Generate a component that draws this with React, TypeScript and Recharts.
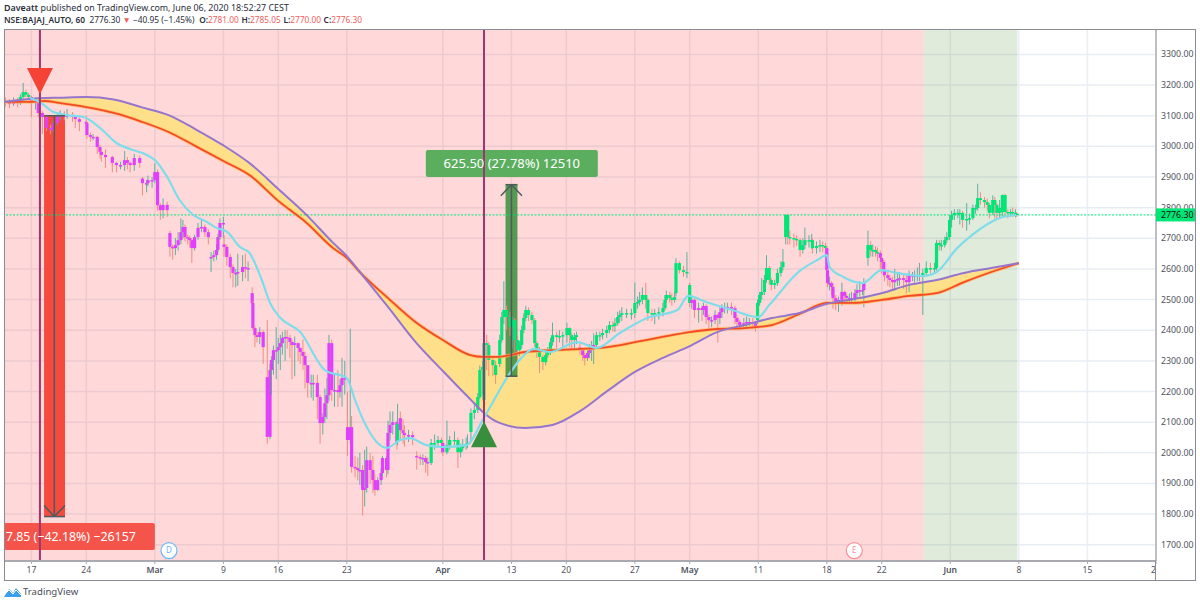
import React from "react";
import {
  ComposedChart, Area, Bar, Line, XAxis, YAxis, CartesianGrid,
  ReferenceArea, ReferenceLine, ReferenceDot,
} from "recharts";

const FONT = "'Noto Sans', sans-serif";

// x unit: trading sessions since the left edge of the chart
const dayTicks = [2, 6, 11, 16, 20, 25, 32, 37, 41, 46, 50, 55, 60, 64, 69, 74, 79, 84];
const dayLabels = ["17", "24", "Mar", "9", "16", "23", "Apr", "13", "20", "27", "May", "11", "18", "22", "Jun", "8", "15", "22"];
const monthLabels = ["Mar", "Apr", "May", "Jun"];
const priceTicks = [1700, 1800, 1900, 2000, 2100, 2200, 2300, 2400, 2500, 2600, 2700, 2800, 2900, 3000, 3100, 3200, 3300];
const lastPrice = 2776.3;

const ribbonDays = [0, 2, 3, 4, 6, 8, 10, 12, 14, 16, 18, 20, 22, 24, 25, 26, 28, 30, 32, 34, 35, 36, 38, 40, 42, 44, 46, 48, 50, 52, 54, 56, 58, 60, 62, 64, 66, 68, 70, 72, 74];
const slowCurve = [3145, 3155, 3158, 3159, 3161, 3153, 3128, 3102, 3055, 3003, 2942, 2861, 2779, 2685, 2642, 2587, 2476, 2362, 2267, 2175, 2130, 2100, 2081, 2091, 2136, 2202, 2264, 2309, 2348, 2394, 2417, 2440, 2456, 2486, 2502, 2521, 2548, 2564, 2587, 2603, 2619];
const fastCurve = [3145, 3145, 3148, 3142, 3128, 3109, 3081, 3047, 3000, 2952, 2903, 2822, 2753, 2668, 2636, 2587, 2505, 2427, 2368, 2319, 2313, 2313, 2329, 2335, 2339, 2345, 2361, 2378, 2394, 2404, 2407, 2417, 2453, 2489, 2489, 2499, 2512, 2521, 2557, 2590, 2619];

const trendDays = [1.9, 2.6, 3.6, 4.6, 5.8, 7, 8.2, 9.4, 10.1, 11.2, 11.9, 12.8, 13.8, 14.8, 15.5, 16.3, 17.2, 17.9, 18.8, 19.4, 20.1, 21.6, 23.4, 25, 25.6, 26.3, 27.9, 28.9, 29.6, 30.8, 32, 33.7, 34.9, 35.6, 36.7, 37.8, 38.6, 39.8, 41.8, 43.2, 44.9, 46.9, 49.1, 49.9, 51.2, 53.1, 55, 55.8, 58, 59.3, 60, 60.2, 61.2, 62.6, 64, 65.1, 67, 68, 69.5, 70.6, 71.6, 72.6, 73.8];
const trendCurve = [3158, 3145, 3112, 3102, 3096, 3060, 3011, 2988, 2978, 2946, 2900, 2825, 2776, 2753, 2734, 2720, 2672, 2652, 2564, 2489, 2443, 2394, 2270, 2244, 2172, 2097, 2016, 2042, 2048, 2025, 2019, 2025, 2107, 2162, 2247, 2313, 2339, 2329, 2361, 2342, 2391, 2440, 2466, 2512, 2492, 2466, 2443, 2482, 2593, 2629, 2645, 2606, 2574, 2554, 2596, 2587, 2577, 2590, 2668, 2711, 2743, 2766, 2776];

// [day, open, close, low, high]
const candlesFeb = [
  [0.1,3150,3145,3130,3160],[0.4,3145,3138,3125,3155],[0.7,3138,3151,3132,3160],[1.0,3151,3141,3128,3158],
  [1.2,3141,3161,3135,3170],[1.4,3161,3177,3155,3207],[1.6,3177,3168,3160,3185],[1.8,3168,3161,3150,3175],
  [2.0,3161,3142,3095,3165],[2.3,3142,3148,3120,3160],[2.5,3148,3109,3095,3152],[2.8,3109,3096,3040,3115],
  [3.1,3096,3060,3050,3100],[3.4,3060,3053,3040,3070],[3.6,3053,3076,3048,3085],[3.9,3076,3096,3070,3105],
  [4.1,3096,3102,3085,3118],[4.4,3102,3099,3085,3115],[4.6,3099,3102,3090,3122],[5.0,3102,3096,3080,3112],
  [5.2,3096,3089,3060,3100],[5.5,3089,3080,3050,3095],[6.0,3080,3076,3065,3100],[6.05,3076,3037,3025,3080],
  [6.3,3037,3031,3015,3045],[6.5,3031,3031,3020,3040],[6.8,3031,2998,2975,3035],[7.0,2998,2982,2960,3005],
  [7.1,2982,2972,2950,2990],[7.4,2972,2965,2930,2990],[7.9,2965,2946,2915,2970],[8.2,2946,2939,2915,2950],
  [8.5,2939,2939,2925,2950],[8.8,2939,2955,2920,2985],[9.0,2955,2946,2925,2965],[9.2,2946,2939,2915,2950],
  [9.5,2939,2962,2920,2975],[9.9,2962,2946,2930,2970],
];
const candlesMarA = [
  [10.1,2895,2880,2840,2900],[10.4,2880,2880,2850,2890],[10.5,2880,2890,2870,2905],[10.8,2890,2890,2865,2900],
  [11.0,2890,2916,2880,2945],[11.2,2916,2808,2790,2925],[11.4,2808,2792,2760,2815],[11.6,2792,2809,2765,2830],
  [11.9,2809,2792,2770,2820],[12.1,2717,2672,2640,2725],[12.3,2672,2668,2630,2680],[12.5,2668,2678,2645,2700],
  [12.7,2678,2694,2660,2720],[12.9,2694,2720,2680,2765],[13.05,2720,2737,2700,2760],[13.2,2737,2704,2690,2745],
  [13.4,2704,2701,2680,2712],[13.55,2701,2694,2670,2708],[13.7,2694,2668,2620,2700],[13.9,2668,2704,2660,2712],
  [14.15,2704,2734,2695,2750],[14.4,2734,2737,2720,2760],[14.65,2737,2720,2705,2745],[14.9,2720,2704,2680,2730],
  [15.1,2635,2639,2590,2655],[15.3,2639,2645,2625,2660],[15.5,2645,2662,2630,2680],[15.6,2662,2704,2655,2715],
  [15.75,2704,2750,2695,2765],[16.0,2750,2750,2700,2770],[16.05,2680,2672,2640,2710],[16.25,2672,2639,2610,2680],
  [16.5,2639,2606,2570,2650],[16.7,2606,2587,2540,2615],[16.9,2587,2587,2540,2600],[17.05,2587,2590,2545,2650],
  [17.4,2590,2606,2560,2645],[17.6,2606,2603,2570,2650],[17.8,2603,2603,2560,2625],
];
const candlesMarB = [
  [18.1,2521,2489,2480,2540],[18.15,2489,2407,2400,2495],[18.3,2407,2384,2345,2415],[18.45,2384,2378,2360,2395],
  [18.65,2378,2394,2355,2410],[18.9,2394,2345,2290,2400],[19.2,2247,2052,2030,2433],[19.4,2052,2270,2045,2290],
  [19.5,2270,2303,2190,2315],[19.65,2303,2335,2255,2350],[19.85,2335,2335,2240,2410],[20.0,2335,2345,2290,2375],
  [20.15,2345,2358,2270,2385],[20.3,2358,2375,2320,2395],[20.5,2375,2378,2300,2400],[20.65,2378,2375,2340,2400],
  [20.85,2375,2362,2310,2385],[21.0,2362,2352,2240,2370],[21.2,2352,2358,2250,2380],[21.45,2358,2342,2300,2360],
  [21.6,2342,2329,2290,2345],[21.8,2329,2316,2270,2370],[21.95,2316,2286,2210,2330],[22.15,2286,2228,2180,2260],
  [22.4,2228,2228,2180,2255],[22.55,2228,2228,2170,2255],[22.85,2228,2182,2110,2255],[23.05,2182,2097,2030,2190],
  [23.25,2097,2117,2060,2130],[23.4,2117,2162,2100,2210],[23.55,2162,2188,2110,2245],[23.7,2188,2358,2170,2385],
  [23.9,2358,2205,2170,2370],[24.1,2205,2205,2150,2260],[24.35,2205,2198,2150,2270],[24.5,2198,2221,2180,2240],
  [24.65,2221,2244,2150,2310],[24.85,2244,2244,2190,2300],[25.05,2084,2042,1990,2200],[25.25,2042,2084,2030,2405],
  [25.35,2084,1954,1935,2120],[25.6,1954,1950,1920,1990],[25.8,1950,1944,1910,1985],[25.95,1944,1944,1895,2000],
  [26.15,1944,1879,1795,1960],[26.3,1879,1885,1825,2010],[26.45,1885,1976,1870,2020],[26.7,1976,1944,1900,2000],
  [26.9,1944,1911,1870,1990],[27.05,1911,1879,1860,1930],[27.25,1879,1911,1875,1920],[27.5,1911,1934,1895,1950],
  [27.6,1934,1983,1925,1990],[27.9,1983,1944,1920,1990],[28.0,1944,2065,1930,2105],[28.15,2065,2091,2040,2135],
  [28.35,2091,2100,2060,2135],[28.65,2100,2035,2010,2105],[28.7,2035,2094,2025,2160],
];
const candlesApr = [
  [28.9,2113,2074,2040,2135],[29.1,2074,2065,2030,2110],[29.2,2065,2058,2020,2090],[29.5,2058,2058,2035,2075],
  [29.8,2058,2051,2025,2070],[30.1,1990,1986,1945,2005],[30.35,1986,1983,1960,1995],[30.55,1983,1983,1960,1995],
  [30.75,1983,1970,1935,1990],[30.9,1970,1967,1925,1985],[31.15,1967,2032,1960,2045],[31.4,2032,2032,2010,2060],
  [31.65,2032,2042,2020,2055],[31.9,2042,2032,2000,2050],[32.0,2032,2002,1990,2040],[32.3,2002,2025,1995,2105],
  [32.5,2025,2042,2010,2055],[32.85,2042,2042,2025,2070],[33.1,2042,2002,1950,2050],[33.3,2002,2015,1985,2030],
  [33.45,2015,2025,2005,2045],[33.7,2025,2028,2010,2050],[33.8,2028,2032,2015,2060],[34.05,2068,2130,2035,2145],
  [34.3,2130,2140,2110,2165],[34.55,2140,2182,2130,2195],[34.7,2182,2270,2175,2285],[34.9,2270,2280,2190,2300],
  [35.0,2172,2358,2160,2375],[35.2,2358,2352,2270,2385],[35.35,2352,2303,2250,2360],[35.65,2303,2286,2250,2310],
  [35.85,2286,2254,2225,2300],[36.15,2290,2368,2280,2385],[36.3,2368,2443,2360,2460],[36.45,2443,2466,2420,2560],
  [36.65,2466,2443,2400,2480],[36.9,2443,2410,2380,2460],[37.1,2410,2433,2340,2445],[37.25,2433,2368,2330,2440],
  [37.45,2368,2335,2300,2380],[37.6,2335,2352,2315,2365],[37.75,2352,2401,2340,2415],[37.9,2401,2440,2390,2455],
  [38.05,2440,2466,2430,2480],[38.25,2466,2450,2430,2475],[38.5,2450,2433,2420,2460],[38.7,2433,2358,2345,2440],
  [38.85,2358,2335,2310,2365],[39.05,2335,2313,2260,2345],[39.3,2313,2296,2270,2320],[39.5,2296,2319,2285,2335],
  [39.65,2319,2329,2310,2345],[39.85,2329,2361,2320,2375],[40.0,2361,2384,2350,2425],[40.3,2384,2378,2340,2395],
  [40.5,2378,2381,2360,2400],[40.75,2381,2384,2345,2395],[41.05,2384,2407,2360,2425],[41.25,2407,2384,2345,2410],
  [41.4,2384,2368,2335,2390],[41.6,2368,2378,2340,2390],[41.75,2378,2384,2355,2395],
  [42.0,2345,2335,2320,2355],[42.2,2335,2319,2300,2340],[42.35,2319,2309,2285,2325],[42.55,2309,2326,2300,2335],
  [42.7,2326,2335,2310,2355],[42.85,2335,2345,2300,2365],[43.0,2345,2352,2290,2390],[43.2,2352,2384,2340,2395],
  [43.45,2384,2384,2365,2395],[43.65,2384,2391,2370,2405],[43.95,2391,2401,2375,2415],[44.15,2401,2417,2390,2430],
  [44.4,2417,2414,2395,2430],[44.55,2414,2423,2395,2440],[44.75,2423,2443,2415,2460],[44.9,2443,2450,2425,2465],
  [45.05,2450,2456,2430,2475],[45.4,2456,2456,2440,2470],[45.75,2456,2456,2435,2470],[46.0,2456,2489,2440,2555],
  [46.2,2489,2492,2470,2510],[46.35,2492,2499,2480,2525],[46.55,2499,2515,2485,2540],[46.8,2515,2499,2470,2555],
  [46.95,2499,2456,2430,2505],[47.25,2456,2453,2430,2470],[47.45,2453,2456,2420,2470],[47.75,2456,2459,2435,2475],
];
const candlesMay = [
  [48.05,2459,2472,2445,2490],[48.2,2472,2499,2465,2515],[48.3,2499,2515,2490,2530],[48.55,2515,2505,2490,2525],
  [48.7,2505,2499,2480,2520],[48.9,2499,2508,2490,2525],[49.0,2521,2619,2510,2635],[49.25,2619,2596,2585,2625],
  [49.55,2596,2590,2575,2610],[49.8,2590,2590,2570,2655],[50.0,2548,2489,2475,2555],[50.15,2489,2499,2470,2510],
  [50.35,2499,2466,2440,2505],[50.65,2466,2472,2425,2490],[50.9,2472,2466,2430,2480],[51.0,2466,2479,2450,2490],
  [51.2,2479,2443,2420,2485],[51.4,2443,2433,2400,2450],[51.6,2433,2433,2410,2445],[51.85,2433,2450,2420,2465],
  [52.05,2450,2440,2360,2455],[52.2,2440,2459,2420,2475],[52.35,2459,2472,2440,2485],[52.55,2472,2476,2455,2490],
  [52.75,2476,2476,2455,2490],[53.05,2476,2472,2450,2490],[53.3,2472,2440,2420,2480],[53.45,2440,2427,2405,2450],
  [53.65,2427,2417,2400,2435],[53.95,2417,2423,2405,2440],[54.15,2423,2427,2410,2445],[54.35,2427,2427,2415,2440],
  [54.6,2427,2423,2405,2440],[54.8,2423,2410,2395,2430],[54.95,2433,2489,2420,2500],[55.1,2489,2515,2480,2525],
  [55.25,2515,2525,2500,2570],[55.45,2525,2564,2515,2580],[55.6,2564,2603,2555,2645],[55.8,2603,2564,2550,2610],
  [55.95,2564,2548,2530,2570],[56.2,2548,2554,2535,2565],[56.4,2554,2587,2545,2600],[56.65,2587,2606,2575,2625],
  [56.8,2606,2623,2595,2665],[57.0,2704,2776,2680,2778],[57.15,2776,2704,2680,2780],[57.3,2704,2701,2680,2725],
  [57.6,2701,2698,2670,2715],[57.8,2698,2694,2675,2710],[58.05,2694,2662,2640,2700],[58.25,2662,2678,2650,2700],
  [58.4,2678,2694,2665,2735],[58.7,2694,2694,2670,2710],[58.9,2694,2694,2665,2715],[58.95,2694,2668,2650,2700],
  [59.25,2668,2675,2650,2690],[59.5,2675,2678,2655,2695],[59.7,2678,2675,2655,2690],[59.9,2675,2668,2650,2685],
  [60.0,2668,2596,2585,2675],[60.05,2596,2554,2540,2600],[60.2,2554,2554,2530,2575],[60.35,2554,2541,2515,2560],
  [60.45,2541,2505,2470,2548],[60.65,2505,2492,2465,2515],[60.85,2492,2499,2460,2510],[61.1,2499,2525,2480,2555],
  [61.3,2525,2512,2490,2530],[61.45,2512,2505,2485,2520],[61.65,2505,2505,2490,2520],[61.8,2505,2505,2485,2525],
  [62.05,2505,2521,2485,2535],[62.2,2521,2531,2505,2550],[62.4,2531,2531,2510,2560],[62.6,2531,2531,2515,2550],
  [62.7,2531,2557,2475,2570],[63.0,2636,2678,2610,2725],[63.2,2678,2662,2640,2690],[63.35,2662,2662,2640,2680],
  [63.55,2662,2655,2640,2675],[63.7,2655,2652,2625,2670],[63.9,2652,2636,2600,2660],[64.0,2636,2623,2585,2640],
  [64.15,2623,2596,2575,2630],[64.2,2596,2580,2560,2600],[64.45,2580,2570,2545,2590],[64.6,2570,2564,2540,2580],
  [64.8,2564,2557,2530,2575],[64.95,2557,2564,2530,2600],[65.15,2564,2567,2545,2585],[65.3,2567,2570,2545,2590],
  [65.6,2570,2564,2535,2580],[65.8,2564,2557,2520,2585],[66.0,2557,2580,2525,2595],[66.25,2580,2580,2560,2590],
  [66.4,2580,2580,2555,2595],[66.6,2580,2580,2560,2605],[66.75,2580,2580,2560,2620],
];
const candlesJun = [
  [67.0,2575,2587,2450,2600],[67.25,2587,2603,2580,2625],[67.55,2603,2600,2585,2620],[67.85,2600,2603,2590,2620],
  [68.0,2603,2685,2595,2695],[68.2,2685,2678,2660,2695],[68.35,2678,2678,2660,2695],[68.6,2678,2694,2670,2705],
  [68.75,2694,2704,2685,2720],[68.95,2704,2760,2695,2775],[69.1,2760,2776,2735,2790],[69.3,2776,2783,2760,2795],
  [69.55,2783,2783,2765,2795],[69.7,2783,2783,2745,2795],[69.9,2783,2760,2735,2790],[70.2,2760,2763,2725,2815],
  [70.4,2763,2766,2745,2780],[70.65,2766,2799,2760,2810],[70.85,2799,2799,2780,2810],[71.0,2799,2831,2790,2878],
  [71.2,2831,2825,2810,2850],[71.5,2825,2818,2800,2835],[71.7,2818,2809,2790,2830],[71.85,2809,2783,2765,2815],
  [72.1,2783,2825,2775,2840],[72.25,2825,2809,2765,2835],[72.4,2809,2783,2760,2815],[72.6,2783,2799,2765,2825],
  [72.8,2785,2841,2770,2843],[73.0,2841,2786,2770,2845],[73.2,2786,2783,2765,2795],[73.4,2783,2786,2770,2795],
  [73.55,2786,2783,2770,2800],[73.75,2783,2783,2768,2795],[73.85,2781,2776,2770,2785],
];
// sessions during which the candle bodies are drawn in the bearish colour
const bearRuns = [[0, 1.1], [1.9, 28.65], [28.85, 31.1], [31.95, 32.1], [42, 43.05], [50.1, 54.85], [60, 62.75], [63.9, 66.8]];

const tradeDown = { from: 3100, to: 1792, left: 2.92, right: 4.45, mid: 3.67 };
const tradeUp = { from: 2250, to: 2875, left: 36.57, right: 37.44, mid: 37 };
const signalDays = [2.62, 35];

const candles = [...candlesFeb, ...candlesMarA, ...candlesMarB, ...candlesApr, ...candlesMay, ...candlesJun];
const tableRows: any[] = [
  ...ribbonDays.map((day, i) => ({ day, slow: slowCurve[i], fast: fastCurve[i], band: [slowCurve[i], fastCurve[i]] })),
  ...trendDays.map((day, i) => ({ day, trend: trendCurve[i] })),
  ...candles.map(([day, open, close, low, high]) => ({ day, open, close, low, high, range: [low, high] })),
].sort((a, b) => a.day - b.day);

const isBear = (d: number) => bearRuns.some(([a, b]) => d >= a && d <= b);

function Candle(props: any) {
  const { x, y, width, height, payload } = props;
  if (!payload || !payload.range || !Number.isFinite(y)) return null;
  const cx = x + width / 2;
  const per = height / (payload.high - payload.low);
  const py = (v: number) => y + (payload.high - v) * per;
  const top = py(Math.max(payload.open, payload.close));
  const bot = py(Math.min(payload.open, payload.close));
  return (
    <g>
      <line x1={cx} x2={cx} y1={y} y2={y + height} stroke={payload.close >= payload.open ? "#5fae9f" : "#ee8d80"} strokeWidth={1} />
      <rect x={cx - 1.6} width={3.2} y={top} height={Math.max(bot - top, 1.5)} fill={isBear(payload.day) ? "#e040fb" : "#00e676"} />
    </g>
  );
}

function XTick(props: any) {
  const { x, y, payload, index } = props;
  const label = dayLabels[index] ?? "";
  const isMonth = monthLabels.includes(label);
  return (
    <g>
      <clipPath id={`xt${index}`}><rect x={0} y={y - 6} width={1156} height={24} /></clipPath>
      <text x={x} y={y + 7} textAnchor="middle" fontFamily={FONT} fontSize={8.6} fontWeight={isMonth ? 600 : 400} fill="#50535e" clipPath={`url(#xt${index})`}>
        {label || payload.value}
      </text>
    </g>
  );
}

function YTick(props: any) {
  const { x, y, payload } = props;
  if (payload.value === lastPrice) {
    return (
      <g>
        <rect x={x - 5} y={y - 6.5} width={40} height={13} fill="#00e676" />
        <text x={x} y={y + 3} fontFamily={FONT} fontSize={8.8} fill="#111">{lastPrice.toFixed(2)}</text>
      </g>
    );
  }
  return <text x={x} y={y + 3} fontFamily={FONT} fontSize={8.8} fill="#50535e">{payload.value.toFixed(2)}</text>;
}

const TriDown = (p: any) => <polygon points={`${p.cx - 13},${p.cy - 13} ${p.cx + 13},${p.cy - 13} ${p.cx},${p.cy + 13}`} fill="#f44336" />;
const TriUp = (p: any) => <polygon points={`${p.cx - 13},${p.cy + 13} ${p.cx + 13},${p.cy + 13} ${p.cx},${p.cy - 13}`} fill="#388e3c" />;

const seg = (x1: number, y1: number, x2: number, y2: number, k: string, w = 1.5) => (
  <ReferenceLine key={k} segment={[{ x: x1, y: y1 }, { x: x2, y: y2 }]} stroke="#4f5a5c" strokeWidth={w} />
);

const redPart = { color: "#f0615c" };
const hdr: React.CSSProperties = { position: "absolute", left: 4, fontFamily: FONT, fontSize: 8.9, color: "#2a2e39", whiteSpace: "nowrap", lineHeight: "11px" };
const lbl: React.CSSProperties = { fontWeight: 600, marginLeft: 2.5 };

export default function App() {
  return (
    <div style={{ position: "fixed", left: 0, top: 0, width: 1200, height: 605, background: "#fff", overflow: "hidden" }}>
      <div style={{ ...hdr, top: 2 }}><span style={{ fontWeight: 600 }}>Daveatt</span> published on TradingView.com, June 06, 2020 18:52:27 CEST</div>
      <div style={{ ...hdr, top: 14, fontSize: 8.35 }}>
        <span style={{ fontWeight: 600 }}>NSE:BAJAJ_AUTO, 60</span>&nbsp; 2776.30 <span style={redPart}>▼</span> −40.95 (−1.45%) <span style={lbl}>O:</span><span style={redPart}>2781.00</span><span style={lbl}>H:</span><span style={redPart}>2785.05</span><span style={lbl}>L:</span><span style={redPart}>2770.00</span><span style={lbl}>C:</span><span style={redPart}>2776.30</span>
      </div>
      <ComposedChart width={1200} height={605} data={tableRows} margin={{ top: 29, right: 5, bottom: 25, left: 4 }} style={{ position: "absolute", left: 0, top: 0 }}>
        <CartesianGrid stroke="#e9eef5" strokeWidth={1.5} verticalValues={dayTicks} horizontalValues={priceTicks} />
        <XAxis dataKey="day" type="number" scale="linear" domain={[0, 84]} ticks={dayTicks} interval={0} height={19} allowDataOverflow tick={<XTick />} tickLine={{ stroke: "#a9a9b2" }} tickSize={3} axisLine={{ stroke: "#a9a9b2", strokeWidth: 2 }} />
        <YAxis orientation="right" type="number" domain={[1647, 3383]} ticks={[...priceTicks, lastPrice]} interval={0} width={39} allowDataOverflow tick={<YTick />} tickLine={false} tickSize={3} tickMargin={2} axisLine={{ stroke: "#8b8b93" }} />
        <ReferenceArea x1={0} x2={67.05} y1={1647} y2={3383} fill="#ff0000" fillOpacity={0.15} stroke="none" />
        <ReferenceArea x1={67.05} x2={73.9} y1={1647} y2={3383} fill="#387814" fillOpacity={0.15} stroke="none" />
        <ReferenceLine y={lastPrice} stroke="#00e676" strokeDasharray="2 1.5" strokeWidth={1} />
        <Area dataKey="band" type="monotone" fill="#ffe08a" fillOpacity={1} stroke="none" connectNulls isAnimationActive={false} activeDot={false} dot={false} />
        <Bar dataKey="range" barSize={3} shape={<Candle />} isAnimationActive={false} />
        <Line dataKey="fast" type="monotone" stroke="#ffb74d" strokeWidth={3.4} strokeOpacity={0.7} dot={false} connectNulls isAnimationActive={false} />
        <Line dataKey="fast" type="monotone" stroke="#f44a2a" strokeWidth={1.8} dot={false} connectNulls isAnimationActive={false} />
        <Line dataKey="slow" type="monotone" stroke="#9575cd" strokeWidth={2} dot={false} connectNulls isAnimationActive={false} />
        <Line dataKey="trend" type="monotone" stroke="#7fdcea" strokeWidth={2.2} dot={false} connectNulls isAnimationActive={false} />
        {signalDays.map((d) => <ReferenceLine key={d} x={d} stroke="#a0356f" strokeWidth={2} />)}
        <ReferenceArea x1={tradeDown.left} x2={tradeDown.right} y1={tradeDown.to} y2={tradeDown.from} fill="#f44336" fillOpacity={0.95} stroke="none" />
        <ReferenceArea x1={tradeUp.left} x2={tradeUp.right} y1={tradeUp.from} y2={tradeUp.to} fill="#388e3c" fillOpacity={0.85} stroke="none" />
        {seg(tradeDown.mid, tradeDown.from, tradeDown.mid, tradeDown.to, "a")}
        {seg(tradeDown.left, tradeDown.from, tradeDown.right, tradeDown.from, "b")}
        {seg(tradeDown.left, tradeDown.to, tradeDown.right, tradeDown.to, "c")}
        {seg(tradeDown.left, tradeDown.to + 36, tradeDown.mid, tradeDown.to, "d")}
        {seg(tradeDown.right, tradeDown.to + 36, tradeDown.mid, tradeDown.to, "e")}
        {seg(tradeUp.mid, tradeUp.from, tradeUp.mid, tradeUp.to, "f")}
        {seg(tradeUp.left, tradeUp.from, tradeUp.right, tradeUp.from, "g")}
        {seg(tradeUp.left, tradeUp.to, tradeUp.right, tradeUp.to, "h")}
        {seg(tradeUp.mid - 0.77, tradeUp.to - 36, tradeUp.mid, tradeUp.to, "i")}
        {seg(tradeUp.mid + 0.77, tradeUp.to - 36, tradeUp.mid, tradeUp.to, "j")}
        <ReferenceDot x={signalDays[0]} y={3213} shape={TriDown} />
        <ReferenceDot x={signalDays[1]} y={2061} shape={TriUp} />
        <ReferenceArea x1={30.76} x2={43.3} y1={2900} y2={2988} fill="#5cae5f" fillOpacity={1} stroke="none" radius={2}
          label={{ value: "625.50 (27.78%) 12510", fill: "#fff", fontSize: 13, fontFamily: FONT, position: "center" }} />
        <ReferenceArea x1={0} x2={11} y1={1683} y2={1771} fill="#f44f45" fillOpacity={0.97} stroke="none" radius={2}
          label={{ value: "7.85 (−42.18%) −26157", fill: "#fff", fontSize: 12.4, fontFamily: FONT, position: "insideRight", offset: 19 }} />
        <ReferenceDot x={12.03} y={1681} r={8} fill="#fff" stroke="#6cb8f6" strokeWidth={1.2}
          label={{ value: "D", fill: "#6cb8f6", fontSize: 8, fontFamily: FONT, position: "center" }} />
        <ReferenceDot x={62} y={1681} r={8} fill="#fff" stroke="#f7919b" strokeWidth={1.2}
          label={{ value: "E", fill: "#f7919b", fontSize: 8, fontFamily: FONT, position: "center" }} />
      </ComposedChart>
      <div style={{ position: "absolute", left: 4, top: 29, width: 1190, height: 550, border: "1px solid #8b8b93", pointerEvents: "none" }} />
      <div style={{ position: "absolute", left: 1155, top: 561, width: 1, height: 19, background: "#8b8b93" }} />
      <svg width={20} height={12} style={{ position: "absolute", left: 3, top: 586 }}>
        <path d="M1 11 L6 3 L10 7 L13 2 L18 8 L18 11 Z" fill="#3ba0ec" />
        <path d="M1 9 L6 4 L10 8 L13 4 L18 9" fill="none" stroke="#fff" strokeWidth={1} />
      </svg>
      <div style={{ position: "absolute", left: 23, top: 586, fontFamily: FONT, fontSize: 9.6, color: "#4a4f5a", lineHeight: "12px" }}>TradingView</div>
    </div>
  );
}
